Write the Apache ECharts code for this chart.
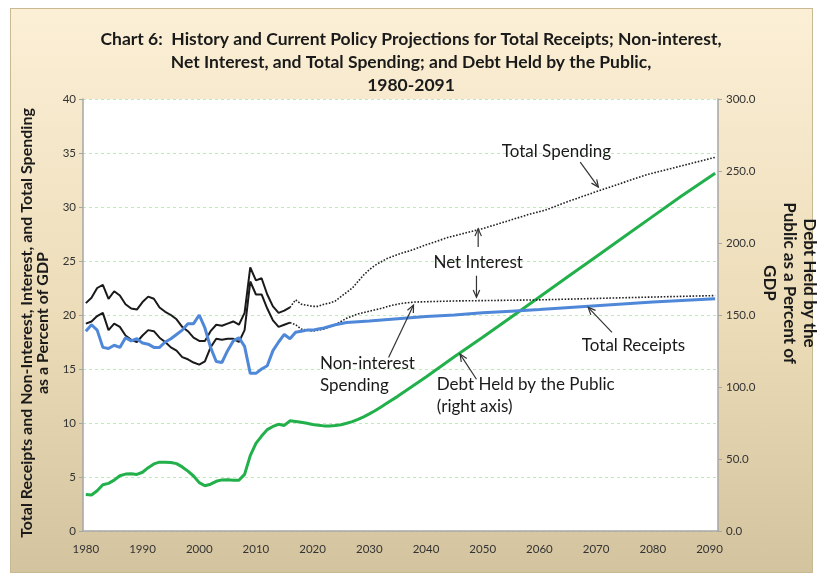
<!DOCTYPE html>
<html>
<head>
<meta charset="utf-8">
<script src="https://cdn.jsdelivr.net/npm/echarts@6/dist/echarts.min.js"></script>
<style>
  html, body { margin: 0; padding: 0; background: #fff; }
  #bg {
    position: absolute; left: 10px; top: 8px; width: 803px; height: 565px;
    background: linear-gradient(to bottom, #fbefd6 0%, #ecdcb8 55%, #d3c39f 100%);
    border: 1px solid #c9b993; box-sizing: border-box;
  }
  #main { position: absolute; left: 0; top: 0; width: 822px; height: 573px; }
</style>
</head>
<body>
<div id="bg"></div>
<div id="main"></div>
<script>
// categories
var firstYear = 1980;
var lastYear = 2091;
var years = [];
for (var y = firstYear; y <= lastYear; y++) years.push(String(y));

// history 1980-2016, percent of GDP
var receiptsHist = [18.5, 19.1, 18.6, 17.0, 16.9, 17.2, 17.0, 17.9, 17.6, 17.8,
  17.4, 17.3, 17.0, 17.0, 17.5, 17.8, 18.2, 18.6, 19.2, 19.2,
  20.0, 18.8, 17.0, 15.7, 15.6, 16.7, 17.6, 17.9, 17.1, 14.6,
  14.6, 15.0, 15.3, 16.7, 17.5, 18.2, 17.8];
var totalSpendHist = [21.1, 21.6, 22.5, 22.8, 21.5, 22.2, 21.8, 21.0, 20.6, 20.5,
  21.2, 21.7, 21.5, 20.7, 20.3, 20.0, 19.6, 18.9, 18.5, 17.9,
  17.6, 17.6, 18.5, 19.1, 19.0, 19.2, 19.4, 19.1, 20.2, 24.4,
  23.2, 23.4, 21.9, 20.8, 20.2, 20.4, 20.7];
var nonIntHist = [19.2, 19.4, 19.9, 20.2, 18.6, 19.2, 18.9, 18.1, 17.7, 17.5,
  18.1, 18.6, 18.5, 17.9, 17.5, 17.0, 16.7, 16.1, 15.9, 15.6,
  15.4, 15.7, 17.0, 17.8, 17.7, 17.8, 17.8, 17.5, 18.6, 23.1,
  21.9, 21.9, 20.6, 19.5, 18.9, 19.1, 19.3];
var debtHist = [25.3, 25.0, 27.9, 32.1, 33.1, 35.3, 38.4, 39.5, 39.8, 39.3,
  40.8, 44.0, 46.6, 47.8, 47.7, 47.5, 46.8, 44.5, 41.6, 38.2,
  33.6, 31.4, 32.5, 34.5, 35.5, 35.6, 35.3, 35.2, 39.3, 52.3,
  60.9, 65.9, 70.4, 72.6, 74.1, 73.3, 76.5];

// projections [year, value]
var receiptsProj = [[2017, 18.4], [2018, 18.5], [2019, 18.6], [2020, 18.6], [2021, 18.7],
  [2022, 18.8], [2024, 19.1], [2026, 19.3], [2030, 19.45], [2035, 19.65], [2040, 19.85],
  [2045, 20.0], [2050, 20.2], [2055, 20.35], [2060, 20.5], [2070, 20.85], [2080, 21.2], [2091, 21.5]];
var totalSpendProj = [[2016, 20.7], [2017, 21.4], [2018, 21.0], [2019, 20.9], [2020, 20.8],
  [2021, 20.8], [2022, 21.0], [2023, 21.1], [2024, 21.3], [2025, 21.7], [2026, 22.1],
  [2027, 22.5], [2028, 23.1], [2029, 23.7], [2030, 24.2], [2031, 24.6], [2032, 24.9],
  [2033, 25.2], [2035, 25.6], [2038, 26.1], [2040, 26.5], [2044, 27.2], [2050, 28.0],
  [2055, 28.8], [2058, 29.3], [2061, 29.7], [2065, 30.5], [2071, 31.6], [2079, 33.0],
  [2085, 33.8], [2091, 34.6]];
var nonIntProj = [[2016, 19.3], [2017, 19.1], [2018, 18.7], [2019, 18.6], [2020, 18.5],
  [2021, 18.6], [2022, 18.7], [2023, 18.9], [2024, 19.1], [2025, 19.4], [2026, 19.7],
  [2027, 19.9], [2028, 20.1], [2030, 20.35], [2032, 20.6], [2034, 20.9], [2036, 21.1],
  [2038, 21.2], [2045, 21.3], [2060, 21.4], [2075, 21.6], [2091, 21.8]];
var debtProj = [[2017, 76.0], [2018, 75.5], [2019, 74.8], [2020, 74.0], [2021, 73.4],
  [2022, 73.0], [2023, 72.9], [2024, 73.2], [2025, 73.8], [2026, 74.8], [2027, 76.0],
  [2028, 77.5], [2029, 79.3], [2030, 81.3], [2031, 83.5], [2032, 86.0], [2033, 88.5],
  [2035, 93.5], [2040, 107.0], [2045, 121.0], [2050, 134.5], [2055, 148.5], [2060, 162.5],
  [2065, 176.5], [2070, 190.5], [2075, 204.5], [2080, 218.5], [2085, 232.5], [2091, 248.5]];

// tick labels
var leftTicks = [0, 5, 10, 15, 20, 25, 30, 35, 40];
var rightTicks = [0, 50, 100, 150, 200, 250, 300];

// annotations, placed in data coordinates [year, left-axis value]
var notes = [
  { text: "Total Spending", at: [2063.0, 35.1], align: "center" },
  { text: "Net Interest", at: [2049.2, 24.9], align: "center" },
  { text: "Non-interest\nSpending", at: [2021.3, 14.5], align: "left" },
  { text: "Total Receipts", at: [2076.6, 17.2], align: "center" },
  { text: "Debt Held by the Public\n(right axis)", at: [2041.9, 12.5], align: "left" }
];
var arrows = [
  [[2067.2, 34.16], [2070.4, 31.84]],
  [[2049.2, 26.3], [2049.2, 27.98]],
  [[2048.9, 23.64], [2048.9, 21.63]],
  [[2033.4, 16.07], [2037.8, 20.92]],
  [[2072.8, 18.39], [2068.6, 20.71]],
  [[2048.9, 14.05], [2046.0, 16.38]]
];

function byYear(arr) {
  return arr.map(function (v, i) { return [i, v]; });
}
function pairs(arr) {
  return arr.map(function (p) { return [p[0] - firstYear, p[1]]; });
}

var FONT = "Lato";
var chart = echarts.init(document.getElementById("main"), null, { renderer: "canvas" });

var option = {
  backgroundColor: "transparent",
  animation: false,
  title: {
    text: "Chart 6:  History and Current Policy Projections for Total Receipts; Non-interest,\nNet Interest, and Total Spending; and Debt Held by the Public,\n1980-2091",
    left: "center",
    top: 23,
    textStyle: {
      fontFamily: FONT, fontSize: 17.5, fontWeight: "bold", color: "#1a1a1a", lineHeight: 23,
      align: "center"
    }
  },
  grid: {
    left: 83, right: 104, top: 99, bottom: 42,
    show: true, backgroundColor: "#ffffff", borderWidth: 0
  },
  xAxis: {
    type: "category",
    data: years,
    axisLine: { lineStyle: { color: "#a6a6a6", width: 1.5 } },
    axisTick: { show: false },
    axisLabel: {
      interval: function (i, v) { return +v % 10 === 0; },
      color: "#333", fontSize: 11.5, fontFamily: FONT, margin: 12
    },
    splitLine: { show: false }
  },
  yAxis: [
    {
      type: "value", position: "left",
      min: leftTicks[0], max: leftTicks[leftTicks.length - 1], interval: 5,
      axisLine: { show: true, lineStyle: { color: "#a6a6a6", width: 1.5 } },
      axisTick: { show: true, length: 4, lineStyle: { color: "#a6a6a6" } },
      axisLabel: { color: "#333", fontSize: 11.5, fontFamily: FONT, margin: 7 },
      splitLine: { show: true, lineStyle: { color: "#bdebb5", type: [3, 3], width: 1 } }
    },
    {
      type: "value", position: "right",
      min: rightTicks[0], max: rightTicks[rightTicks.length - 1], interval: 50,
      axisLine: { show: true, lineStyle: { color: "#a6a6a6", width: 1.5 } },
      axisTick: { show: true, length: 4, lineStyle: { color: "#a6a6a6" } },
      axisLabel: {
        color: "#333", fontSize: 11.5, fontFamily: FONT, margin: 8,
        formatter: function (v) { return v.toFixed(1); }
      },
      splitLine: { show: false }
    }
  ],
  series: [
    {
      name: "Debt Held by the Public", type: "line", yAxisIndex: 1,
      data: byYear(debtHist).concat(pairs(debtProj)),
      symbol: "none", lineStyle: { color: "#22b04b", width: 3 }, z: 2
    },
    {
      name: "Total Spending", type: "line",
      data: byYear(totalSpendHist),
      symbol: "none", lineStyle: { color: "#1a1a1a", width: 2 }, z: 3
    },
    {
      name: "Non-interest Spending", type: "line",
      data: byYear(nonIntHist),
      symbol: "none", lineStyle: { color: "#1a1a1a", width: 2 }, z: 3
    },
    {
      name: "Total Spending (proj)", type: "line",
      data: pairs(totalSpendProj),
      symbol: "none", lineStyle: { color: "#222", width: 1.6, type: [1.6, 1.6] }, z: 3
    },
    {
      name: "Non-interest Spending (proj)", type: "line",
      data: pairs(nonIntProj),
      symbol: "none", lineStyle: { color: "#222", width: 1.6, type: [1.6, 1.6] }, z: 3
    },
    {
      name: "Total Receipts", type: "line",
      data: byYear(receiptsHist).concat(pairs(receiptsProj)),
      symbol: "none", lineStyle: { color: "#4f88d8", width: 3 }, z: 4
    }
  ]
};

chart.setOption(option);

// pixel position of a (fractional) year / left-axis value
function px(yr, v) {
  var i = Math.floor(yr - firstYear);
  var f = yr - firstYear - i;
  var a = chart.convertToPixel({ xAxisIndex: 0, yAxisIndex: 0 }, [i, v]);
  var b = chart.convertToPixel({ xAxisIndex: 0, yAxisIndex: 0 }, [i + 1, v]);
  return [a[0] + (b[0] - a[0]) * f, a[1]];
}

var graphics = [];

// axis titles
graphics.push({
  type: "text", x: 35, y: 323, rotation: Math.PI / 2,
  style: {
    text: "Total Receipts and Non-Interest, Interest, and Total Spending\nas a Percent of GDP",
    fontFamily: FONT, fontSize: 16, fontWeight: "bold", fill: "#1a1a1a",
    align: "center", verticalAlign: "middle", lineHeight: 16
  }
});
graphics.push({
  type: "text", x: 789, y: 283, rotation: -Math.PI / 2,
  style: {
    text: "Debt Held by the\nPublic as a Percent of\nGDP",
    fontFamily: FONT, fontSize: 17, fontWeight: "bold", fill: "#1a1a1a",
    align: "center", verticalAlign: "middle", lineHeight: 20
  }
});

notes.forEach(function (n) {
  var p = px(n.at[0], n.at[1]);
  graphics.push({
    type: "text", x: p[0], y: p[1], z: 10,
    style: {
      text: n.text, fontFamily: FONT, fontSize: 17, fill: "#1a1a1a",
      align: n.align, verticalAlign: "middle", lineHeight: 22
    }
  });
});

arrows.forEach(function (a) {
  var p0 = px(a[0][0], a[0][1]);
  var p1 = px(a[1][0], a[1][1]);
  var ang = Math.atan2(p1[1] - p0[1], p1[0] - p0[0]);
  var hl = 8, hw = 0.42;
  var h1 = [p1[0] - hl * Math.cos(ang - hw), p1[1] - hl * Math.sin(ang - hw)];
  var h2 = [p1[0] - hl * Math.cos(ang + hw), p1[1] - hl * Math.sin(ang + hw)];
  graphics.push({
    type: "polyline", z: 10,
    shape: { points: [p0, p1] },
    style: { stroke: "#333", lineWidth: 1.2, fill: null }
  });
  graphics.push({
    type: "polyline", z: 10,
    shape: { points: [h1, p1, h2] },
    style: { stroke: "#333", lineWidth: 1.2, fill: null }
  });
});

chart.setOption({ graphic: graphics });
</script>
</body>
</html>
